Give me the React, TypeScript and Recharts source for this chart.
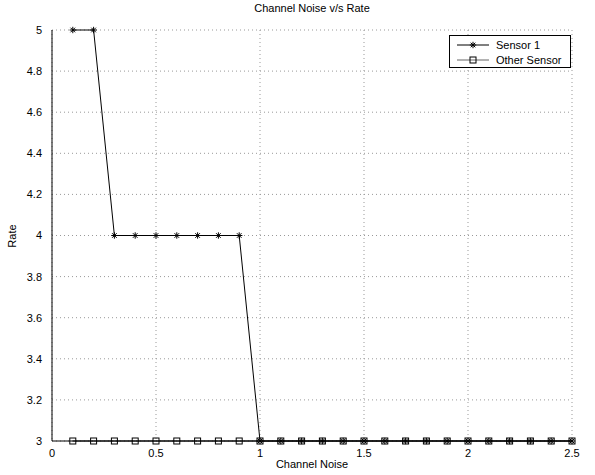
import type { FC } from 'react';
import {
    LineChart,
    Line,
    XAxis,
    YAxis,
    CartesianGrid,
} from 'recharts';

// x positions (Channel Noise)
const noise = [
    0.1, 0.2, 0.3, 0.4, 0.5, 0.6, 0.7, 0.8, 0.9, 1.0,
    1.1, 1.2, 1.3, 1.4, 1.5, 1.6, 1.7, 1.8, 1.9, 2.0,
    2.1, 2.2, 2.3, 2.4, 2.5,
];
// Rate for Sensor 1
const sensor1 = [
    5, 5, 4, 4, 4, 4, 4, 4, 4, 3,
    3, 3, 3, 3, 3, 3, 3, 3, 3, 3,
    3, 3, 3, 3, 3,
];
// Rate for Other Sensor
const otherSensor = [
    3, 3, 3, 3, 3, 3, 3, 3, 3, 3,
    3, 3, 3, 3, 3, 3, 3, 3, 3, 3,
    3, 3, 3, 3, 3,
];
const xTicks = [0, 0.5, 1, 1.5, 2, 2.5];
const yTicks = [3, 3.2, 3.4, 3.6, 3.8, 4, 4.2, 4.4, 4.6, 4.8, 5];

const seriesNames = ['Sensor 1', 'Other Sensor'];

const chartData = noise.map((x, i) => ({
    x,
    s1: sensor1[i],
    other: otherSensor[i],
}));

const FONT = '"Liberation Sans", Arial, Helvetica, sans-serif';

// MATLAB-like asterisk marker
const Star = ({ cx, cy }: any) => {
    if (cx == null || cy == null) return null;
    const r = 3.2;
    const d = r * 0.72;
    return (
        <g stroke="#000" strokeWidth={1}>
            <line x1={cx - r} y1={cy} x2={cx + r} y2={cy} />
            <line x1={cx} y1={cy - r} x2={cx} y2={cy + r} />
            <line x1={cx - d} y1={cy - d} x2={cx + d} y2={cy + d} />
            <line x1={cx - d} y1={cy + d} x2={cx + d} y2={cy - d} />
        </g>
    );
};

// square marker
const Square = ({ cx, cy }: any) => {
    if (cx == null || cy == null) return null;
    return (
        <rect x={cx - 3} y={cy - 3} width={6} height={6} fill="none" stroke="#000" strokeWidth={1} />
    );
};

const LegendBox: FC = () => (
    <div
        style={{
            position: 'absolute',
            left: 449,
            top: 35,
            width: 120,
            height: 31,
            background: '#fff',
            border: '1px solid #000',
            fontFamily: FONT,
            fontSize: 11,
        }}
    >
        <svg width={120} height={31} style={{ position: 'absolute', left: 0, top: 0 }}>
            <line x1={7} y1={9} x2={39} y2={9} stroke="#000" />
            <Star cx={23} cy={9} />
            <line x1={7} y1={24} x2={39} y2={24} stroke="#666" />
            <Square cx={23} cy={24} />
            <text x={46} y={13} fontSize={11} fontFamily={FONT} fill="#000">{seriesNames[0]}</text>
            <text x={46} y={28} fontSize={11} fontFamily={FONT} fill="#000">{seriesNames[1]}</text>
        </svg>
    </div>
);

const App: FC = () => {
    return (
        <div style={{ position: 'absolute', left: 0, top: 0, width: 595, height: 475, background: '#fff', fontFamily: FONT }}>
            <div style={{ position: 'absolute', top: 2, left: 52, width: 520, textAlign: 'center', fontSize: 11 }}>
                Channel Noise v/s Rate
            </div>
            <div style={{ position: 'absolute', top: 458, left: 52, width: 520, textAlign: 'center', fontSize: 11 }}>
                Channel Noise
            </div>
            <div
                style={{
                    position: 'absolute',
                    left: 12,
                    top: 236,
                    fontSize: 11,
                    transform: 'translate(-50%, -50%) rotate(-90deg)',
                }}
            >
                Rate
            </div>
            <LineChart
                width={595}
                height={475}
                data={chartData}
                margin={{ top: 30, right: 23, left: 0, bottom: 0 }}
            >
                <CartesianGrid
                    stroke="#999"
                    strokeDasharray="1 3"
                    horizontalValues={yTicks}
                    verticalValues={xTicks}
                />
                <XAxis
                    dataKey="x"
                    type="number"
                    domain={[0, 2.5]}
                    ticks={xTicks}
                    height={34}
                    axisLine={{ stroke: '#000' }}
                    tickLine={false}
                    tick={{ fill: '#000', fontSize: 11, fontFamily: FONT }}
                    tickMargin={2}
                    interval={0}
                />
                <XAxis
                    xAxisId="top"
                    orientation="top"
                    dataKey="x"
                    type="number"
                    domain={[0, 2.5]}
                    height={0}
                    tick={false}
                    tickLine={false}
                    axisLine={{ stroke: '#000' }}
                />
                <YAxis
                    type="number"
                    domain={[3, 5]}
                    ticks={yTicks}
                    width={52}
                    axisLine={{ stroke: '#000' }}
                    tickLine={false}
                    tick={{ fill: '#000', fontSize: 11, fontFamily: FONT }}
                    tickMargin={4}
                    interval={0}
                    tickFormatter={(v: number) => String(Math.round(v * 10) / 10)}
                />
                <YAxis
                    yAxisId="right"
                    orientation="right"
                    domain={[3, 5]}
                    width={0}
                    tick={false}
                    tickLine={false}
                    axisLine={{ stroke: '#000' }}
                />
                <Line
                    dataKey="other"
                    name={seriesNames[1]}
                    stroke="#000"
                    strokeWidth={1}
                    dot={<Square />}
                    isAnimationActive={false}
                />
                <Line
                    dataKey="s1"
                    name={seriesNames[0]}
                    stroke="#000"
                    strokeWidth={1}
                    dot={<Star />}
                    isAnimationActive={false}
                />
            </LineChart>
            <LegendBox />
        </div>
    );
};

export default App;
